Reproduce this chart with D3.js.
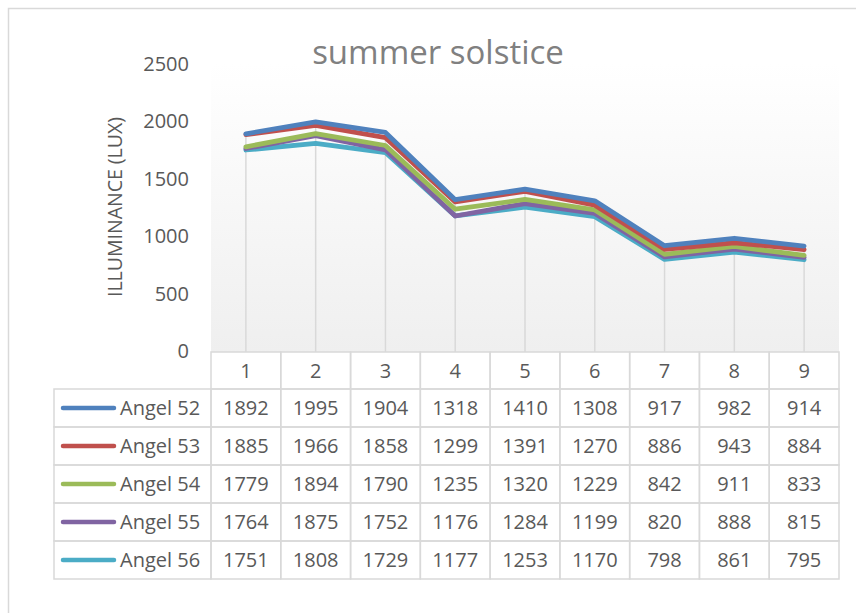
<!DOCTYPE html>
<html>
<head>
<meta charset="utf-8">
<script src="https://d3js.org/d3.v7.min.js"></script>
<style>
	body { margin: 0; background: #fff; }
	text { font-family: "Open Sans", sans-serif; fill: #595959; }
</style>
</head>
<body>
<svg id="chart"></svg>

<script type="text/javascript">

	// data
	let categories = ["1", "2", "3", "4", "5", "6", "7", "8", "9"]
	let seriesNames = ["Angel 52", "Angel 53", "Angel 54", "Angel 55", "Angel 56"]
	let angel52 = [1892, 1995, 1904, 1318, 1410, 1308, 917, 982, 914]
	let angel53 = [1885, 1966, 1858, 1299, 1391, 1270, 886, 943, 884]
	let angel54 = [1779, 1894, 1790, 1235, 1320, 1229, 842, 911, 833]
	let angel55 = [1764, 1875, 1752, 1176, 1284, 1199, 820, 888, 815]
	let angel56 = [1751, 1808, 1729, 1177, 1253, 1170, 798, 861, 795]
	let yTicks = [0, 500, 1000, 1500, 2000, 2500]
	let colours = ["#4F81BD", "#C0504D", "#9BBB59", "#8064A2", "#4BACC6"]

	let seriesData = [angel52, angel53, angel54, angel55, angel56].map(function(vals, i){
		return { key: seriesNames[i], values: vals }
	})

	//Size specifications
	let width = 856
	let height = 613
	let plotLeft = 211
	let plotRight = 839
	let plotTop = 64
	let plotBottom = 352
	let headerBottom = 389
	let tableBottom = 579
	let legendLeft = 54

	let chart = d3.select("#chart")
		.attr("width", width)
		.attr("height", height)

	// chart border (only top/left visible in the crop)
	chart.append("rect")
		.attr("x", 8.5).attr("y", 8.5)
		.attr("width", width + 20).attr("height", height + 20)
		.style("fill", "none")
		.style("stroke", "#d9d9d9")
		.style("stroke-width", 1.5)

	// gradient for the plot area
	let grad = chart.append("defs").append("linearGradient")
		.attr("id", "plotGrad")
		.attr("x1", 0).attr("y1", 0).attr("x2", 0).attr("y2", 1)
	grad.append("stop").attr("offset", "0%").attr("stop-color", "#ffffff")
	grad.append("stop").attr("offset", "100%").attr("stop-color", "#efefef")

	//Scales
	let xScale = d3.scaleBand()
		.domain(categories)
		.range([plotLeft, plotRight])

	let yScale = d3.scaleLinear()
		.domain([0, 2500])
		.range([plotBottom - 1, plotTop])

	let rowScale = d3.scaleBand()
		.domain(seriesNames)
		.range([headerBottom, tableBottom])

	chart.append("rect")
		.attr("x", plotLeft).attr("y", plotTop)
		.attr("width", plotRight - plotLeft)
		.attr("height", plotBottom - plotTop)
		.style("fill", "url(#plotGrad)")

	// title
	chart.append("text")
		.attr("x", 438).attr("y", 64)
		.attr("text-anchor", "middle")
		.style("font-size", "33px")
		.style("fill", "#808080")
		.text("summer solstice")

	// y axis, no line, no ticks
	let yAxis = d3.axisLeft(yScale)
		.tickValues(yTicks)
		.tickSize(0)
		.tickPadding(0)
		.tickFormat(d3.format("d"))

	let yAxisGlyph = chart.append("g")
		.attr("transform", "translate(189,0)")
		.call(yAxis)
	yAxisGlyph.select(".domain").remove()
	yAxisGlyph.selectAll("text")
		.style("font-family", "'Open Sans', sans-serif")
		.style("font-size", "20px")
		.style("fill", "#595959")

	chart.append("text")
		.attr("transform", "translate(122,207) rotate(-90)")
		.attr("text-anchor", "middle")
		.style("font-size", "19.5px")
		.text("ILLUMINANCE (LUX)")

	// drop lines from each point to the axis
	let center = function(c){ return xScale(c) + xScale.bandwidth() / 2 }
	let tops = categories.map(function(c, i){
		return { cat: c, max: d3.max(seriesData, function(s){ return s.values[i] }) }
	})
	chart.selectAll("line.drop")
		.data(tops)
		.enter().append("line")
		.classed("drop", true)
		.attr("x1", function(d){ return center(d.cat) })
		.attr("x2", function(d){ return center(d.cat) })
		.attr("y1", function(d){ return yScale(d.max) })
		.attr("y2", plotBottom)
		.style("stroke", "#d9d9d9")
		.style("stroke-width", 1.5)

	// lines, drawn bottom series first so Angel 52 ends on top
	let lineGenerator = d3.line()
		.x(function(d, i){ return center(categories[i]) })
		.y(function(d){ return yScale(d) })

	chart.selectAll("path.wordline")
		.data(seriesData.slice().reverse())
		.enter().append("path")
		.classed("wordline", true)
		.attr("d", function(d){ return lineGenerator(d.values) })
		.style("fill", "none")
		.style("stroke", function(d){ return colours[seriesNames.indexOf(d.key)] })
		.style("stroke-width", 4.8)
		.style("stroke-linecap", "round")
		.style("stroke-linejoin", "round")

	// data table
	let table = chart.append("g")
	let gridStyle = function(sel){
		sel.style("stroke", "#d9d9d9").style("stroke-width", 1.5).style("fill", "none")
	}

	// header cells with category labels
	table.selectAll("rect.head")
		.data(categories)
		.enter().append("rect")
		.attr("x", function(d){ return xScale(d) })
		.attr("y", plotBottom)
		.attr("width", xScale.bandwidth())
		.attr("height", headerBottom - plotBottom)
		.call(gridStyle)

	table.selectAll("text.head")
		.data(categories)
		.enter().append("text")
		.attr("x", function(d){ return center(d) })
		.attr("y", (plotBottom + headerBottom) / 2 + 7)
		.attr("text-anchor", "middle")
		.style("font-size", "20px")
		.text(function(d){ return d })

	let rows = table.selectAll("g.row")
		.data(seriesData)
		.enter().append("g")
		.classed("row", true)

	rows.append("rect")
		.attr("x", legendLeft)
		.attr("y", function(d){ return rowScale(d.key) })
		.attr("width", plotLeft - legendLeft)
		.attr("height", rowScale.bandwidth())
		.call(gridStyle)

	rows.append("line")
		.attr("x1", 63).attr("x2", 114)
		.attr("y1", function(d){ return rowScale(d.key) + rowScale.bandwidth() / 2 })
		.attr("y2", function(d){ return rowScale(d.key) + rowScale.bandwidth() / 2 })
		.style("stroke", function(d, i){ return colours[i] })
		.style("stroke-width", 4.5)
		.style("stroke-linecap", "round")

	rows.append("text")
		.attr("x", 120)
		.attr("y", function(d){ return rowScale(d.key) + rowScale.bandwidth() / 2 + 7 })
		.style("font-size", "20px")
		.text(function(d){ return d.key })

	rows.selectAll("rect.cell")
		.data(function(d){ return d.values.map(function(v, i){ return { key: d.key, cat: categories[i], v: v } }) })
		.enter().append("rect")
		.classed("cell", true)
		.attr("x", function(d){ return xScale(d.cat) })
		.attr("y", function(d){ return rowScale(d.key) })
		.attr("width", xScale.bandwidth())
		.attr("height", rowScale.bandwidth())
		.call(gridStyle)

	rows.selectAll("text.cell")
		.data(function(d){ return d.values.map(function(v, i){ return { key: d.key, cat: categories[i], v: v } }) })
		.enter().append("text")
		.classed("cell", true)
		.attr("x", function(d){ return center(d.cat) })
		.attr("y", function(d){ return rowScale(d.key) + rowScale.bandwidth() / 2 + 7 })
		.attr("text-anchor", "middle")
		.style("font-size", "20px")
		.text(function(d){ return d.v })

</script>
</body>
</html>
